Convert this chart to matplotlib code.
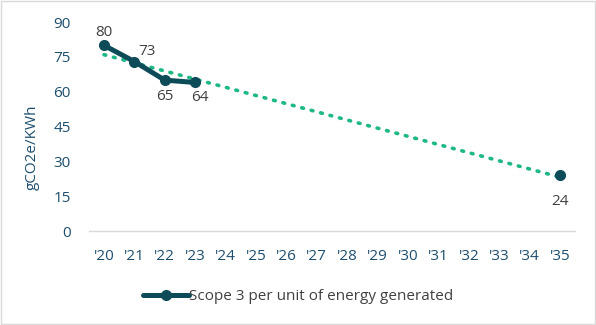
import numpy as np
import matplotlib.pyplot as plt

plt.rcParams['font.family'] = ['Open Sans', 'DejaVu Sans']

# data
years = ["'20", "'21", "'22", "'23", "'24", "'25", "'26", "'27",
         "'28", "'29", "'30", "'31", "'32", "'33", "'34", "'35"]
actual_idx = [0, 1, 2, 3]
actual_vals = [80, 73, 65, 64]
target_idx = [15]
target_vals = [24]

dark = "#0E4B59"
green = "#1DB886"
tick_col = "#1E4E6E"
label_col = "#404040"

fig = plt.figure(figsize=(5.96, 3.25), dpi=100)
ax = fig.add_axes([0.149, 0.289, 0.816, 0.643])

# linear trendline through all points (like the Excel trendline)
all_x = np.array(actual_idx + target_idx)
all_y = np.array(actual_vals + target_vals)
slope, icpt = np.polyfit(all_x, all_y, 1)
tx = np.array([0, len(years) - 1])
ax.plot(tx, slope * tx + icpt, color=green, lw=2.6, linestyle=(0, (0.5, 2.2)),
        dash_capstyle='round', zorder=2)

ax.plot(actual_idx, actual_vals, color=dark, lw=3.6, marker='o', ms=7,
        solid_capstyle='round', zorder=3,
        label="Scope 3 per unit of energy generated")
ax.plot(target_idx, target_vals, color=dark, lw=0, marker='o', ms=7, zorder=3)

# data labels
offsets = [(0, 9.5), (9, 7.5), (0, -11.5), (3.5, -11), (0, -19)]
pts = list(zip(actual_idx, actual_vals)) + list(zip(target_idx, target_vals))
for (i, v), off in zip(pts, offsets):
    ax.annotate(str(v), (i, v), xytext=off, textcoords='offset points',
                ha='center', va='center', fontsize=11, color=label_col)

ax.set_xlim(-0.5, len(years) - 0.5)
ax.set_ylim(0, 90)
ax.set_yticks(range(0, 91, 15))
ax.set_xticks(range(len(years)))
ax.set_xticklabels(years)
ax.tick_params(length=0, labelsize=11, colors=tick_col)
ax.tick_params(axis='y', pad=13)
ax.tick_params(axis='x', pad=13)
for s in ['top', 'right', 'left']:
    ax.spines[s].set_visible(False)
ax.spines['bottom'].set_color("#D9D9D9")
ax.spines['bottom'].set_linewidth(1)

ax.set_ylabel("gCO2e/KWh", fontsize=11, color=tick_col)
ax.yaxis.set_label_coords(-0.101, 0.40)

leg = fig.legend(loc='center', bbox_to_anchor=(0.5, 0.088), frameon=False,
                 fontsize=11, handlelength=3, handletextpad=0.0)
for t in leg.get_texts():
    t.set_color(label_col)

# outer border
fig.patches.append(plt.Rectangle((0.002, 0.003), 0.996, 0.994, transform=fig.transFigure,
                                 fill=False, edgecolor="#D9D9D9", lw=1))

fig.savefig("out.png", dpi=100)
